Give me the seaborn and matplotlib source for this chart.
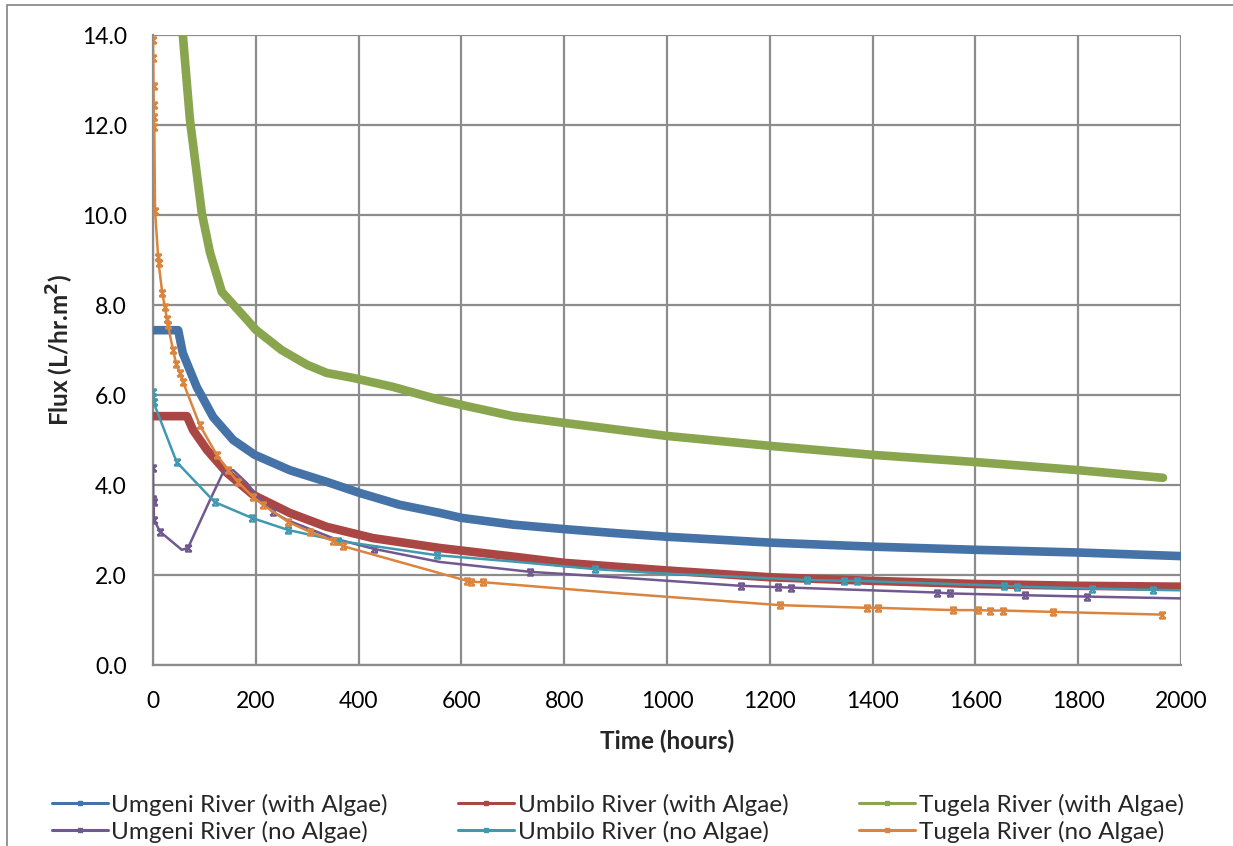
import numpy as np
import pandas as pd
import matplotlib
matplotlib.use("Agg")
import matplotlib.pyplot as plt
from matplotlib.lines import Line2D
from matplotlib.path import Path
from matplotlib.patches import Rectangle
import seaborn as sns

# ---- data: time (hours) and flux (L/hr.m2) per river ----
umgeni_algae_t = [0, 49, 58, 85, 117, 156, 198, 266, 338, 403, 480, 558, 600, 700,
                  800, 900, 1000, 1200, 1400, 1600, 1800, 2000]
umgeni_algae_y = [7.44, 7.44, 6.93, 6.18, 5.51, 5.00, 4.67, 4.33, 4.07, 3.82, 3.56,
                  3.38, 3.27, 3.12, 3.02, 2.93, 2.85, 2.72, 2.63, 2.56, 2.50, 2.42]

umbilo_algae_t = [0, 66, 78, 105, 144, 195, 266, 338, 428, 558, 700, 800, 1000,
                  1200, 1400, 1600, 1800, 2000]
umbilo_algae_y = [5.53, 5.53, 5.22, 4.78, 4.27, 3.78, 3.38, 3.07, 2.82, 2.60, 2.41,
                  2.27, 2.10, 1.95, 1.87, 1.80, 1.76, 1.74]

tugela_algae_t = [58, 72, 95, 111, 134, 183, 200, 250, 300, 338, 389, 467, 558, 600,
                  700, 800, 1000, 1200, 1400, 1600, 1800, 1965]
tugela_algae_y = [14.0, 12.1, 10.04, 9.16, 8.29, 7.67, 7.45, 7.0, 6.67, 6.49, 6.38,
                  6.18, 5.89, 5.78, 5.53, 5.38, 5.09, 4.87, 4.67, 4.51, 4.33, 4.16]

umgeni_no_t = [0, 0.5, 1, 2, 14, 56, 68, 111, 136, 156, 183, 198, 233, 261, 350, 430,
               558, 734, 900, 1143, 1215, 1241, 1525, 1551, 1697, 1818, 2000]
umgeni_no_y = [4.38, 3.70, 3.62, 3.22, 2.96, 2.56, 2.60, 3.67, 4.27, 4.33, 4.04, 3.82,
               3.40, 3.22, 2.82, 2.58, 2.29, 2.07, 1.95, 1.76, 1.73, 1.72, 1.61, 1.59,
               1.55, 1.52, 1.48]
umgeni_no_marks = [0, 1, 2, 3, 4, 6, 12, 15, 17, 19, 20, 21, 22, 23, 24, 25]

umbilo_no_t = [0, 0.5, 1, 46, 120, 192, 263, 360, 552, 700, 860, 1000, 1272, 1345,
               1370, 1655, 1680, 1827, 1945, 2000]
umbilo_no_y = [6.07, 5.95, 5.84, 4.51, 3.62, 3.27, 3.00, 2.76, 2.44, 2.30, 2.13, 2.03,
               1.89, 1.87, 1.87, 1.76, 1.74, 1.70, 1.67, 1.66]
umbilo_no_marks = [0, 1, 2, 3, 4, 5, 6, 7, 8, 10, 12, 13, 14, 15, 16, 17, 18]

tugela_no_t = [0, 0.5, 1, 1.5, 2, 2.5, 4, 10, 11, 18, 23, 27, 29, 39, 45, 52, 58, 91,
               124, 146, 165, 195, 214, 263, 305, 350, 370, 558, 611, 618, 642, 900,
               1220, 1390, 1410, 1556, 1605, 1629, 1654, 1751, 1963]
tugela_no_y = [13.9, 13.5, 12.87, 12.44, 12.18, 11.96, 10.1, 9.07, 8.93, 8.27, 7.96,
               7.7, 7.55, 7.0, 6.7, 6.5, 6.3, 5.33, 4.67, 4.33, 4.07, 3.73, 3.56, 3.18,
               2.96, 2.76, 2.64, 2.04, 1.87, 1.85, 1.84, 1.60, 1.33, 1.27, 1.27, 1.22,
               1.22, 1.21, 1.21, 1.18, 1.12]
tugela_no_marks = [i for i in range(len(tugela_no_t)) if tugela_no_t[i] not in (558, 900)]

x_ticks = [0, 200, 400, 600, 800, 1000, 1200, 1400, 1600, 1800, 2000]
y_ticks = [0.0, 2.0, 4.0, 6.0, 8.0, 10.0, 12.0, 14.0]

# ---- style ----
sns.set_theme(style="white")
plt.rcParams["font.family"] = ["Lato", "DejaVu Sans"]

C_BLUE = "#4572A7"
C_RED = "#AA4643"
C_GREEN = "#89A54E"
C_PURPLE = "#71588F"
C_CYAN = "#4198AF"
C_ORANGE = "#DB843D"
GRID = "#8C8C8C"

# Excel-style "star" marker: an X closed by top and bottom bars
star = Path([(-1, -1), (1, 1), (-1, 1), (1, -1), (-1, 1), (1, 1), (-1, -1), (1, -1)],
            [Path.MOVETO, Path.LINETO, Path.MOVETO, Path.LINETO,
             Path.MOVETO, Path.LINETO, Path.MOVETO, Path.LINETO])

fig = plt.figure(figsize=(12.33, 8.46), dpi=100)
ax = fig.add_axes([153 / 1233, 1 - 665 / 846, (1181 - 153) / 1233, (665 - 35) / 846])

# outer chart frame
fig.patches.append(Rectangle((7 / 1233, -0.05), 1.2, 1 - 5.5 / 846 + 0.05,
                             transform=fig.transFigure, fill=False,
                             edgecolor="#8C8C8C", linewidth=1.3, zorder=0))

dense = [
    (umgeni_algae_t, umgeni_algae_y, C_BLUE),
    (umbilo_algae_t, umbilo_algae_y, C_RED),
    (tugela_algae_t, tugela_algae_y, C_GREEN),
]
for t, y, c in dense:
    df = pd.DataFrame({"t": t, "y": y})
    sns.lineplot(data=df, x="t", y="y", ax=ax, color=c, linewidth=6.2,
                 sort=False, estimator=None, zorder=3)

sparse = [
    (umgeni_no_t, umgeni_no_y, umgeni_no_marks, C_PURPLE),
    (umbilo_no_t, umbilo_no_y, umbilo_no_marks, C_CYAN),
    (tugela_no_t, tugela_no_y, tugela_no_marks, C_ORANGE),
]
for t, y, marks, c in sparse:
    df = pd.DataFrame({"t": t, "y": y})
    sns.lineplot(data=df, x="t", y="y", ax=ax, color=c, linewidth=1.8,
                 sort=False, estimator=None, marker=star, markersize=4.5,
                 markeredgewidth=1.5, markeredgecolor=c, markevery=marks, zorder=4)

ax.set_xlim(0, 2000)
ax.set_ylim(0, 14)
ax.set_xticks(x_ticks)
ax.set_yticks(y_ticks)
ax.set_xticklabels([str(v) for v in x_ticks])
ax.set_yticklabels([f"{v:.1f}" for v in y_ticks])
ax.tick_params(axis="both", length=0, labelsize=16.5, colors="black")
ax.tick_params(axis="y", pad=19)
ax.tick_params(axis="x", pad=19)
ax.grid(True, color=GRID, linewidth=1.6)
ax.set_axisbelow(True)
for s in ax.spines.values():
    s.set_visible(False)
ax.spines["left"].set_visible(True)
ax.spines["bottom"].set_visible(True)
ax.spines["left"].set_color(GRID)
ax.spines["bottom"].set_color(GRID)
ax.spines["left"].set_linewidth(1.6)
ax.spines["bottom"].set_linewidth(1.6)

ax.set_xlabel("Time (hours)", fontsize=17.5, fontweight="bold", labelpad=12)
ax.set_ylabel("Flux (L/hr.m$^\\mathbf{2}$)", fontsize=17.5, fontweight="bold",
              labelpad=4)

# legend: three columns, two rows
names = ["Umgeni River (with Algae)", "Umgeni River (no Algae)",
         "Umbilo River (with Algae)", "Umbilo River (no Algae)",
         "Tugela River (with Algae)", "Tugela River (no Algae)"]
cols = [C_BLUE, C_PURPLE, C_RED, C_CYAN, C_GREEN, C_ORANGE]
handles = [Line2D([0], [0], color=c, linewidth=2.2, marker="s", markersize=3.5,
                  markerfacecolor=c, markeredgecolor=c) for c in cols]
fig.legend(handles, names, ncol=3, loc="center left",
           bbox_to_anchor=(30 / 1233, 1 - 818 / 846), frameon=False,
           fontsize=17.5, handlelength=2.3, handletextpad=0.15,
           columnspacing=2.9, labelspacing=0.2)

fig.savefig("out.png", dpi=100)
